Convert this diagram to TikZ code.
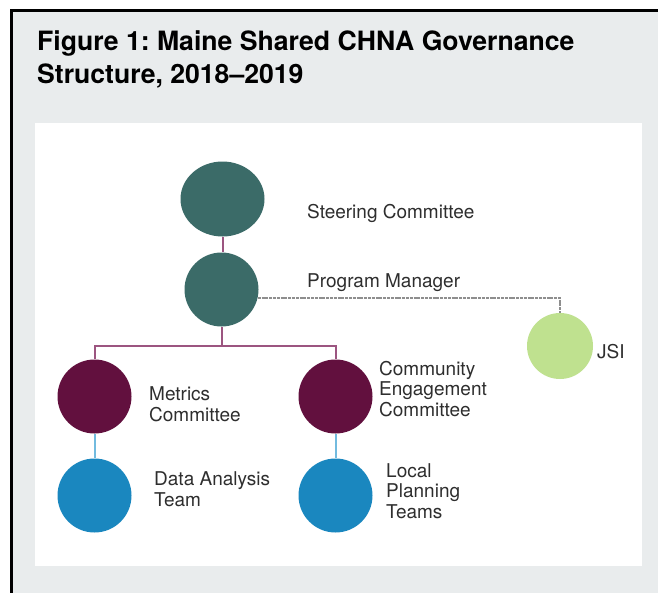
\documentclass[tikz,border=0pt]{standalone}
\usepackage[dvipsnames]{xcolor}
\usepackage{fontspec}
\setmainfont{TeX Gyre Heros}
\usetikzlibrary{shapes.geometric}
\frenchspacing

\definecolor{PanelGray}{HTML}{E9ECED}
\definecolor{LabelGray}{HTML}{2E2E2E}
\definecolor{ChnaTeal}{HTML}{3B6B68}
\definecolor{ChnaMaroon}{HTML}{62103E}
\definecolor{ChnaBlue}{HTML}{1A87BF}
\definecolor{ChnaGreen}{HTML}{BFE18F}
\definecolor{LinkPurple}{HTML}{9C5580}
\definecolor{LinkBlue}{HTML}{72BBDF}
\definecolor{LinkGray}{HTML}{8E8E8E}

\tikzset{
	circ/.style={circle, minimum size=74pt, inner sep=0pt},
	lbl/.style={anchor=base west, inner sep=0pt, align=left, text=LabelGray, font=\fontsize{19}{20.5}\selectfont},
	purpleline/.style={LinkPurple, line width=2pt},
	blueline/.style={LinkBlue, line width=2pt},
	grayline/.style={LinkGray, line width=1.6pt, dash pattern=on 3pt off 0.8pt}
}

\begin{document}
\begin{tikzpicture}[x=1pt, y=-1pt]

\useasboundingbox (0,0) rectangle (658,592);
\clip (0,0) rectangle (658,592);

\fill[PanelGray] (11.5,10.5) rectangle (670,600);
\draw[line width=3pt] (11.5,600) -- (11.5,10.5) -- (670,10.5);
\fill[white] (35,123) rectangle (642,566);

\node[anchor=base west, inner sep=0pt, align=left, font=\bfseries\fontsize{26.6}{33}\selectfont] (title) at (37,83) {Figure 1: Maine Shared CHNA Governance\\Structure, 2018--2019};

\node[ellipse, fill=ChnaTeal, minimum width=84pt, minimum height=75pt, inner sep=0pt] (sc) at (222.5,199) {};
\node[circ, fill=ChnaTeal] (pm) at (221.5,289.5) {};
\node[circ, fill=ChnaGreen, minimum size=66pt] (jsi) at (560,346) {};
\node[circ, fill=ChnaMaroon] (mc) at (94.5,396.5) {};
\node[circ, fill=ChnaMaroon] (cec) at (335.5,396.5) {};
\node[circ, fill=ChnaBlue] (dat) at (94.5,495.5) {};
\node[circ, fill=ChnaBlue] (lpt) at (335.5,495.5) {};

\draw[purpleline] (sc.south) -- (sc.south |- pm.north);
\draw[purpleline] (pm.south) -- ++(0,19) coordinate (bus);
\draw[purpleline] (mc.north) |- (bus) -| (cec.north);
\draw[blueline] (mc) -- (dat);
\draw[blueline] (cec) -- (lpt);
\draw[grayline] (pm.-13) -| (jsi.north);

\node[lbl] (sclbl) at (307,218) {Steering Committee};
\node[lbl] (pmlbl) at (307,287) {Program Manager};
\node[lbl] (jsilbl) at (597,358) {JSI};
\node[lbl] (mclbl) at (149,421) {Metrics\\Committee};
\node[lbl] (ceclbl) at (379,416) {Community\\Engagement\\Committee};
\node[lbl] (datlbl) at (154,506) {Data Analysis\\Team};
\node[lbl] (lptlbl) at (386,518) {Local\\Planning\\Teams};

%\draw[red] (0,345) -- (658,345);

\end{tikzpicture}
\end{document}
